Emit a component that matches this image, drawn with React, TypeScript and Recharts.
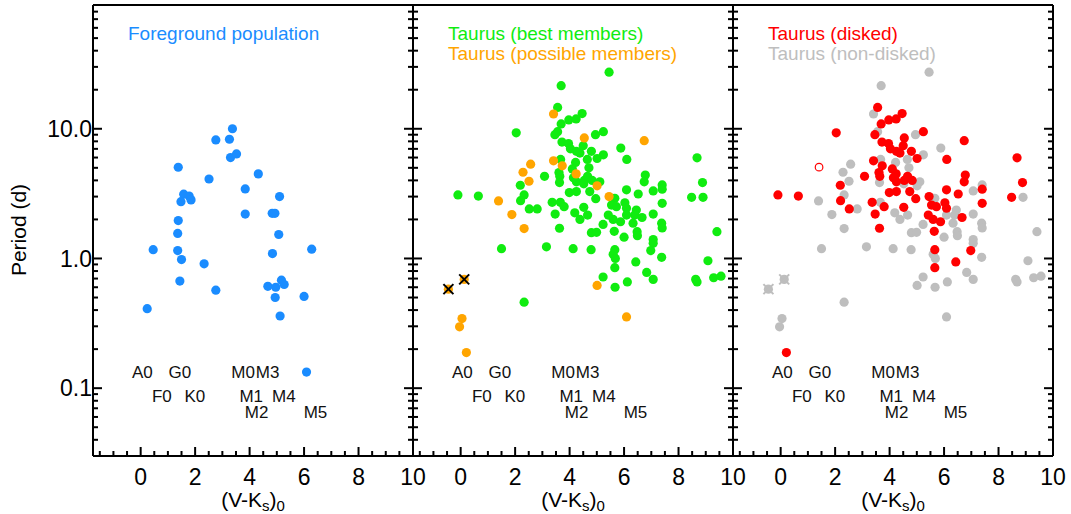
import { ScatterChart, Scatter, XAxis, YAxis } from 'recharts';

const WIDTH = 1071;
const HEIGHT = 514;
const PLOT_W = 320;
const PLOT_TOP = 5;
const PLOT_BOTTOM = 456;
const AXIS_T = 1; // thickness given to each axis box
const FONT = '"Liberation Sans", Arial, Helvetica, sans-serif';

// axes
const xDomain = [-1.75, 10];
const xTicks = [-1.5, -1, -0.5, 0, 0.5, 1, 1.5, 2, 2.5, 3, 3.5, 4, 4.5, 5, 5.5, 6, 6.5, 7, 7.5, 8, 8.5, 9, 9.5, 10];
const xMajorTicks = [0, 2, 4, 6, 8, 10];
const yDomain = [0.03, 90];
const yTicks = [
  0.04, 0.05, 0.06, 0.07, 0.08, 0.09, 0.1, 0.2, 0.3, 0.4, 0.5, 0.6, 0.7, 0.8, 0.9,
  1, 2, 3, 4, 5, 6, 7, 8, 9, 10, 20, 30, 40, 50, 60, 70, 80,
];
const yMajorTicks = [0.1, 1, 10];
const yTickLabels = ['0.1', '1.0', '10.0'];

// spectral type markers along (V-Ks)0
const specNames = ['A0', 'F0', 'G0', 'K0', 'M0', 'M1', 'M2', 'M3', 'M4', 'M5'];
const specColors = [0.06, 0.78, 1.44, 1.99, 3.76, 4.06, 4.26, 4.66, 5.26, 6.42];
const specRows = [0, 1, 0, 1, 0, 1, 2, 0, 1, 2];
const specRowPeriods = [0.133, 0.0865, 0.0651];

// foreground population: [V-Ks, period]
const foreground = [
  [0.24, 0.41], [0.46, 1.17], [1.38, 5.05], [1.58, 3.13], [1.78, 3.03], [1.85, 2.83],
  [1.48, 2.74], [1.38, 1.96], [1.36, 1.56], [1.36, 1.15], [1.5, 0.98], [1.44, 0.67],
  [2.33, 0.91], [2.51, 4.1], [2.76, 8.2], [2.76, 0.57], [3.26, 8.3], [3.37, 10.0],
  [3.3, 6.0], [3.52, 6.4], [3.84, 3.44], [3.84, 2.2], [4.32, 4.49], [4.83, 2.23],
  [4.93, 2.23], [5.1, 3.0], [5.07, 1.53], [4.84, 1.09], [4.67, 0.61], [4.96, 0.6],
  [5.17, 0.68], [5.27, 0.63], [4.94, 0.5], [5.12, 0.36], [6.0, 0.51], [6.28, 1.18],
  [6.09, 0.133],
];

// Taurus best members: [V-Ks, period, disked]
const taurusBest = [
  [5.45, 27.3, 0], [3.69, 21.5, 0], [3.56, 14.6, 1], [4.46, 13.1, 1], [3.97, 11.7, 1],
  [4.24, 11.9, 1], [3.69, 10.9, 1], [3.56, 9.5, 0], [3.46, 9.0, 1], [2.04, 9.3, 1],
  [4.95, 9.0, 0], [5.24, 9.5, 1], [3.72, 7.9, 1], [3.96, 7.7, 1], [4.03, 7.0, 1],
  [4.25, 6.7, 1], [4.38, 6.5, 1], [4.5, 7.4, 1], [4.8, 6.7, 1], [5.88, 7.1, 0],
  [5.24, 6.3, 0], [5.01, 5.9, 1], [6.1, 5.8, 1], [8.68, 5.97, 1], [3.67, 5.8, 0],
  [4.22, 5.5, 0], [4.65, 5.8, 0], [4.71, 5.0, 0], [4.1, 4.9, 1], [3.61, 4.6, 1],
  [3.64, 4.3, 1], [3.63, 3.85, 0], [3.08, 4.3, 1], [6.78, 4.4, 1], [6.74, 3.9, 1],
  [8.88, 3.85, 1], [2.19, 3.67, 1], [2.33, 3.09, 0], [2.2, 2.79, 1], [2.52, 2.41, 1],
  [2.81, 2.41, 0], [-0.1, 3.09, 1], [0.65, 3.03, 1], [3.36, 2.71, 1], [3.66, 2.71, 0],
  [3.8, 2.51, 1], [3.47, 2.2, 1], [3.99, 3.22, 1], [4.25, 3.28, 1], [4.74, 3.28, 1],
  [4.96, 2.89, 1], [4.52, 2.48, 1], [4.19, 2.25, 0], [4.38, 2.0, 0], [4.66, 2.16, 0],
  [3.63, 1.71, 1], [5.11, 3.9, 0], [5.23, 1.83, 0], [4.8, 1.58, 0], [4.99, 1.59, 0],
  [1.5, 1.19, 0], [3.15, 1.23, 0], [4.13, 1.19, 0], [4.79, 1.17, 0], [5.23, 0.72, 0],
  [2.33, 0.46, 0], [6.09, 3.38, 1], [6.52, 3.14, 1], [7.07, 3.32, 0], [7.4, 3.69, 0],
  [7.4, 3.42, 1], [8.48, 2.96, 1], [8.9, 2.96, 0], [5.66, 2.91, 0], [5.54, 2.58, 1],
  [5.72, 2.51, 1], [6.03, 2.69, 1], [6.09, 2.44, 1], [6.45, 2.36, 0], [6.39, 2.16, 0],
  [6.66, 2.07, 1], [6.09, 2.16, 0], [5.87, 1.92, 1], [5.6, 2.0, 1], [5.42, 2.16, 1],
  [5.64, 1.62, 1], [6.0, 1.46, 0], [6.33, 1.87, 0], [6.48, 1.61, 0], [6.49, 1.5, 0],
  [7.07, 2.2, 0], [7.4, 2.66, 1], [7.38, 1.87, 0], [7.4, 1.72, 0], [7.07, 1.4, 0],
  [7.07, 1.31, 0], [6.98, 1.15, 1], [7.38, 1.02, 0], [6.43, 0.94, 1], [5.66, 1.17, 1],
  [5.6, 1.08, 0], [5.68, 1.0, 0], [5.66, 0.85, 1], [5.67, 0.6, 0], [6.12, 0.66, 0],
  [6.83, 0.78, 0], [7.07, 0.69, 0], [8.63, 0.69, 0], [8.68, 0.66, 0], [9.08, 0.96, 0],
  [9.41, 1.61, 0], [9.29, 0.71, 0], [9.56, 0.73, 0], [4.25, 3.9, 1], [4.54, 4.0, 1],
  [4.66, 4.3, 1], [4.83, 4.0, 1], [4.52, 3.76, 0], [4.14, 4.2, 1],
];

// Taurus possible members: [V-Ks, period, disked]
const taurusPossible = [
  [3.41, 13.0, 0], [4.54, 8.5, 1], [6.74, 8.1, 1], [3.41, 5.66, 1], [3.73, 5.18, 1],
  [4.24, 4.49, 1], [2.57, 5.33, 0], [2.29, 4.62, 0], [2.51, 3.94, 0], [5.01, 3.63, 0],
  [1.39, 2.78, 0], [1.88, 2.18, 0], [2.33, 1.7, 0], [5.45, 3.0, 1], [5.01, 0.62, 0],
  [6.09, 0.354, 0], [0.05, 0.344, 0], [-0.04, 0.297, 0], [0.21, 0.188, 1],
];

// possible members marked with a cross
const taurusCrossed = [[-0.45, 0.58], [0.13, 0.69]];

// disked star drawn as open circle
const openDisked = [[1.41, 5.06]];

const BLUE = '#1a8cff';
const GREEN = '#10ec10';
const ORANGE = '#ffa500';
const RED = '#ff0000';
const GREY = '#bebebe';
const DOT_R = 4.6;

const toPoints = (rows: number[][]) => rows.map((r) => ({ x: r[0], y: r[1] }));
const allTaurus = [...taurusBest, ...taurusPossible];
const diskedPts = toPoints(allTaurus.filter((r) => r[2] === 1));
const nonDiskedPts = toPoints(allTaurus.filter((r) => r[2] === 0));
const specPts = specNames.map((name, i) => ({ x: specColors[i], y: specRowPeriods[specRows[i]], name }));

const dot = (color: string) => (p: any) => <circle cx={p.cx} cy={p.cy} r={DOT_R} fill={color} />;
const ring = (color: string) => (p: any) => (
  <circle cx={p.cx} cy={p.cy} r={DOT_R - 0.8} fill="none" stroke={color} strokeWidth={1.2} />
);
const crossDot = (fill: string, cross: string) => (p: any) => (
  <g>
    <circle cx={p.cx} cy={p.cy} r={DOT_R} fill={fill} />
    <line x1={p.cx - 5} y1={p.cy - 5} x2={p.cx + 5} y2={p.cy + 5} stroke={cross} strokeWidth={2} />
    <line x1={p.cx - 5} y1={p.cy + 5} x2={p.cx + 5} y2={p.cy - 5} stroke={cross} strokeWidth={2} />
  </g>
);
const specLabel = (p: any) => (
  <text x={p.cx} y={p.cy} dy="0.35em" textAnchor="middle" fontSize={17} fontFamily={FONT} fill="#111">
    {p.payload.name}
  </text>
);

const xTick = (side: 'bottom' | 'top') => (p: any) => {
  const v = p.payload.value;
  const major = xMajorTicks.includes(v);
  const len = major ? 9 : 5;
  const dir = side === 'bottom' ? -1 : 1;
  return (
    <g>
      <line x1={p.x} x2={p.x} y1={p.y} y2={p.y + dir * len} stroke="#000" strokeWidth={2} />
      {side === 'bottom' && major && (
        <text x={p.x} y={p.y + 29} textAnchor="middle" fontSize={23} fontFamily={FONT} fill="#000">
          {v}
        </text>
      )}
    </g>
  );
};

const yTick = (side: 'left' | 'right', labels: boolean) => (p: any) => {
  const v = p.payload.value;
  const idx = yMajorTicks.indexOf(v);
  const len = idx >= 0 ? 9 : 5;
  const dir = side === 'left' ? 1 : -1;
  return (
    <g>
      <line x1={p.x} x2={p.x + dir * len} y1={p.y} y2={p.y} stroke="#000" strokeWidth={2} />
      {labels && idx >= 0 && (
        <text x={p.x - 1} y={p.y} dy="0.35em" textAnchor="end" fontSize={23} fontFamily={FONT} fill="#000">
          {yTickLabels[idx]}
        </text>
      )}
    </g>
  );
};

const axisLine = { stroke: '#000', strokeWidth: 2 };

function Panel({ left, yLabels, legend, children }: { left: number; yLabels: boolean; legend: [string, string][]; children: any }) {
  const cx = left + PLOT_W / 2;
  return (
    <div style={{ position: 'absolute', left: 0, top: 0 }}>
      <ScatterChart
        width={WIDTH}
        height={HEIGHT}
        margin={{
          top: PLOT_TOP - AXIS_T,
          bottom: HEIGHT - PLOT_BOTTOM - AXIS_T,
          left: left - AXIS_T,
          right: WIDTH - left - PLOT_W - AXIS_T,
        }}
      >
        <XAxis xAxisId="b" type="number" dataKey="x" domain={xDomain} allowDataOverflow ticks={xTicks} interval={0}
          height={AXIS_T} tickSize={0} tickMargin={0} tickLine={false} axisLine={axisLine} tick={xTick('bottom')} />
        <XAxis xAxisId="t" orientation="top" type="number" domain={xDomain} allowDataOverflow ticks={xTicks} interval={0}
          height={AXIS_T} tickSize={0} tickMargin={0} tickLine={false} axisLine={axisLine} tick={xTick('top')} />
        <YAxis yAxisId="l" type="number" dataKey="y" scale="log" domain={yDomain} allowDataOverflow ticks={yTicks} interval={0}
          width={AXIS_T} tickSize={0} tickMargin={0} tickLine={false} axisLine={axisLine} tick={yTick('left', yLabels)} />
        <YAxis yAxisId="r" orientation="right" type="number" scale="log" domain={yDomain} allowDataOverflow ticks={yTicks} interval={0}
          width={AXIS_T} tickSize={0} tickMargin={0} tickLine={false} axisLine={axisLine} tick={yTick('right', false)} />
        <Scatter xAxisId="b" yAxisId="l" data={specPts} shape={specLabel} isAnimationActive={false} />
        {children}
        {legend.map(([label, color], i) => (
          <text key={label} x={left + 35} y={39.5 + i * 20} fontSize={19} fontFamily={FONT} fill={color}>
            {label}
          </text>
        ))}
        <text x={cx} y={507} textAnchor="middle" fontSize={21} fontFamily={FONT} fill="#000">
          (V-K<tspan fontSize={15} dy={4}>s</tspan>
          <tspan dy={-4}>)</tspan>
          <tspan fontSize={15} dy={4}>0</tspan>
        </text>
        {yLabels && (
          <text transform="translate(19,230) rotate(-90)" textAnchor="middle" dy="0.35em" fontSize={21} fontFamily={FONT} fill="#000">
            Period (d)
          </text>
        )}
      </ScatterChart>
    </div>
  );
}

export default function App() {
  return (
    <div style={{ position: 'absolute', left: 0, top: 0, width: WIDTH, height: HEIGHT, background: '#fff' }}>
      <Panel left={93} yLabels legend={[['Foreground population', BLUE]]}>
        <Scatter xAxisId="b" yAxisId="l" data={toPoints(foreground)} shape={dot(BLUE)} isAnimationActive={false} />
      </Panel>
      <Panel left={413} yLabels={false} legend={[['Taurus (best members)', GREEN], ['Taurus (possible members)', ORANGE]]}>
        <Scatter xAxisId="b" yAxisId="l" data={toPoints(taurusBest)} shape={dot(GREEN)} isAnimationActive={false} />
        <Scatter xAxisId="b" yAxisId="l" data={toPoints(taurusPossible)} shape={dot(ORANGE)} isAnimationActive={false} />
        <Scatter xAxisId="b" yAxisId="l" data={toPoints(taurusCrossed)} shape={crossDot(ORANGE, '#000')} isAnimationActive={false} />
      </Panel>
      <Panel left={733} yLabels={false} legend={[['Taurus (disked)', RED], ['Taurus (non-disked)', GREY]]}>
        <Scatter xAxisId="b" yAxisId="l" data={nonDiskedPts} shape={dot(GREY)} isAnimationActive={false} />
        <Scatter xAxisId="b" yAxisId="l" data={toPoints(taurusCrossed)} shape={crossDot(GREY, GREY)} isAnimationActive={false} />
        <Scatter xAxisId="b" yAxisId="l" data={diskedPts} shape={dot(RED)} isAnimationActive={false} />
        <Scatter xAxisId="b" yAxisId="l" data={toPoints(openDisked)} shape={ring(RED)} isAnimationActive={false} />
      </Panel>
    </div>
  );
}
